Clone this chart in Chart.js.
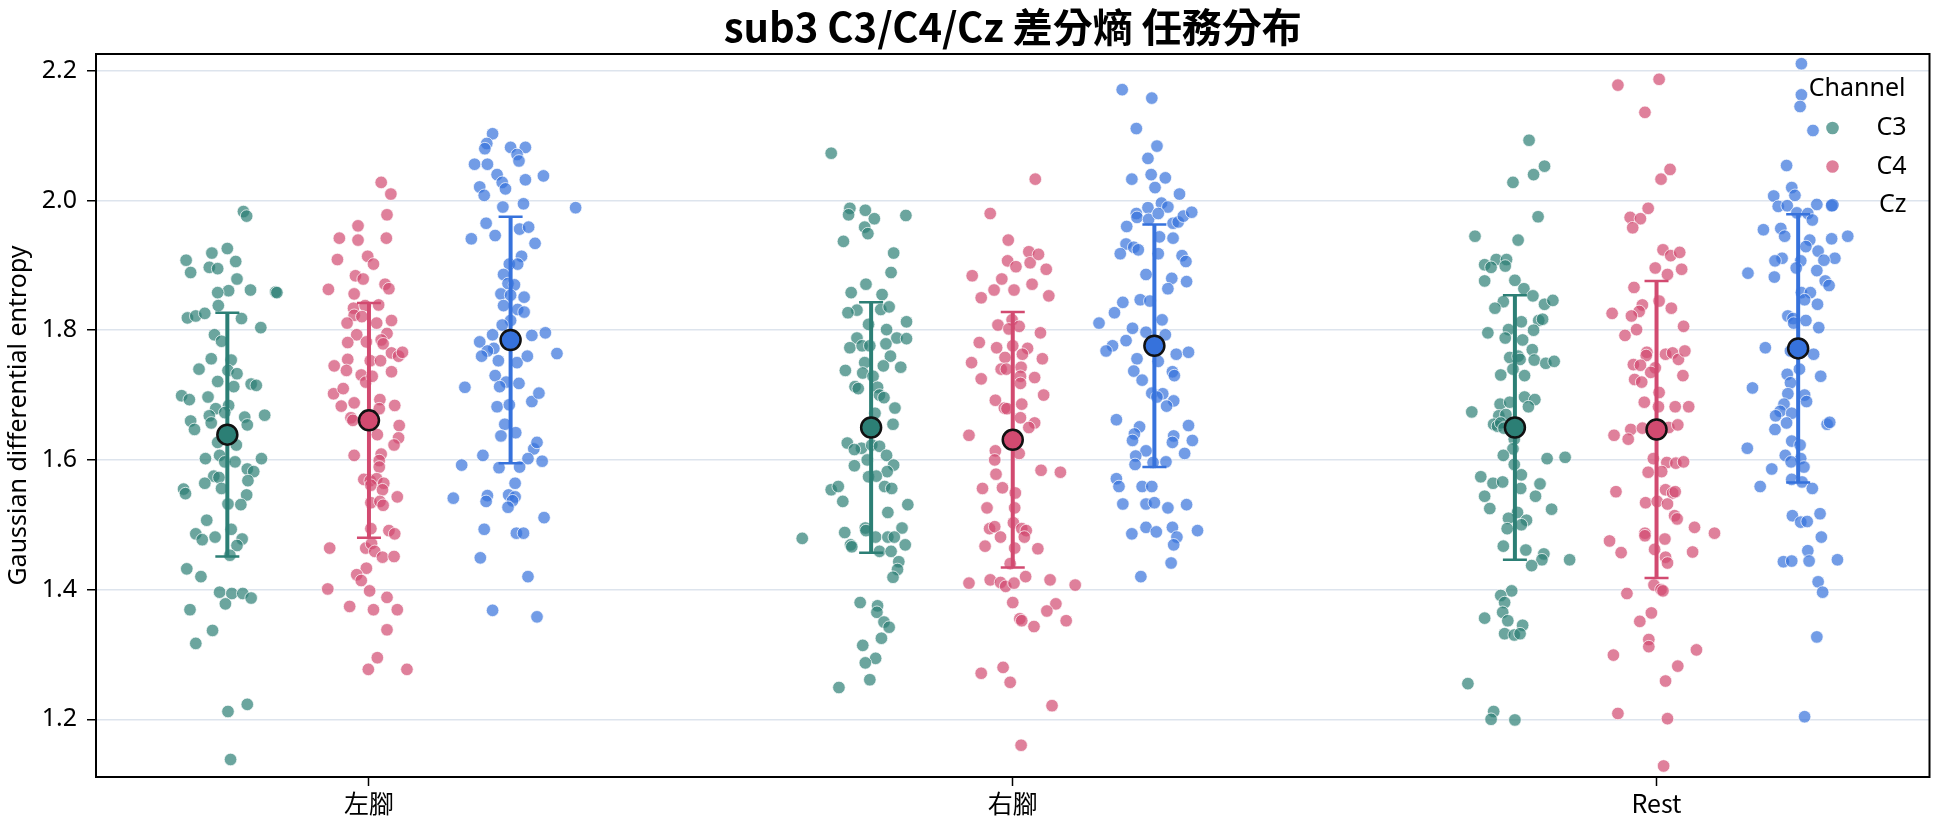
<!DOCTYPE html>
<html>
<head>
<meta charset="utf-8">
<script src="https://cdn.jsdelivr.net/npm/chart.js@4.4.1/dist/chart.umd.min.js"></script>
<style>
  html, body { margin: 0; padding: 0; background: #fff; }
  canvas { display: block; }
</style>
</head>
<body>
<canvas id="chart" width="1944" height="827"></canvas>
<script>
// ---- DATA ----
const categories = ["左腳", "右腳", "Rest"];
const channels = ["C3", "C4", "Cz"];
const yTicks = [1.2, 1.4, 1.6, 1.8, 2.0, 2.2];

// per-channel mean and sd, one value per category (左腳, 右腳, Rest)
const meanC3 = [1.639, 1.650, 1.650];
const meanC4 = [1.661, 1.631, 1.647];
const meanCz = [1.785, 1.776, 1.772];
const sdC3 = [0.188, 0.193, 0.204];
const sdC4 = [0.181, 0.197, 0.229];
const sdCz = [0.190, 0.187, 0.207];

// trial values + strip jitter (category units)
const leftC3 = [
  1.983,1.976,1.926,1.919,1.908,1.889,1.897,1.895,1.906,1.879,
  1.861,1.858,1.862,1.859,1.858,1.838,1.819,1.822,1.826,1.818,
  1.804,1.793,1.783,1.754,1.756,1.740,1.738,1.733,1.721,1.713,
  1.717,1.715,1.699,1.693,1.697,1.684,1.679,1.673,1.668,1.666,
  1.669,1.660,1.647,1.657,1.654,1.627,1.623,1.602,1.607,1.597,
  1.597,1.602,1.586,1.582,1.575,1.573,1.568,1.564,1.556,1.555,
  1.548,1.546,1.532,1.531,1.507,1.486,1.477,1.481,1.493,1.478,
  1.468,1.453,1.432,1.420,1.396,1.394,1.394,1.387,1.378,1.369,
  1.337,1.317,1.223,1.212,1.138];
const leftC3Jit = [
  0.025,0.030,0.000,-0.024,-0.064,-0.057,-0.028,-0.015,0.013,0.015,
  0.002,-0.015,0.036,0.075,0.077,-0.014,-0.062,-0.049,-0.035,0.022,
  0.052,-0.020,-0.009,0.006,-0.025,-0.044,0.001,0.015,-0.015,0.010,
  0.037,0.045,-0.071,-0.059,-0.030,0.002,-0.018,-0.004,-0.028,0.027,
  0.058,-0.057,-0.051,-0.025,0.031,-0.015,0.014,-0.034,-0.012,-0.004,
  0.012,0.053,0.031,0.041,-0.021,-0.013,0.032,-0.035,-0.009,-0.068,
  -0.065,0.030,0.001,0.021,-0.032,-0.049,-0.039,-0.019,0.006,0.023,
  0.015,0.004,-0.063,-0.041,-0.012,0.007,0.024,0.037,-0.003,-0.058,
  -0.023,-0.049,0.031,0.001,0.005];

const leftC4 = [
  2.028,2.010,1.978,1.961,1.942,1.939,1.942,1.909,1.914,1.902,
  1.884,1.879,1.863,1.856,1.871,1.864,1.839,1.834,1.838,1.823,
  1.821,1.811,1.811,1.815,1.793,1.795,1.781,1.782,1.785,1.779,
  1.765,1.760,1.766,1.745,1.755,1.738,1.753,1.753,1.736,1.731,
  1.720,1.729,1.702,1.710,1.683,1.688,1.693,1.679,1.684,1.665,
  1.661,1.653,1.639,1.634,1.623,1.607,1.609,1.599,1.589,1.570,
  1.568,1.571,1.561,1.564,1.554,1.543,1.534,1.536,1.530,1.494,
  1.491,1.486,1.464,1.464,1.471,1.459,1.450,1.451,1.433,1.423,
  1.414,1.401,1.398,1.388,1.374,1.369,1.369,1.338,1.295,1.277,
  1.277];
const leftC4Jit = [
  0.019,0.034,0.028,-0.017,-0.046,-0.017,0.027,-0.049,-0.002,0.007,
  -0.021,-0.009,-0.063,-0.023,0.025,0.031,0.015,-0.024,-0.006,-0.023,
  -0.011,-0.034,0.012,0.035,-0.019,0.028,-0.033,-0.004,0.019,0.022,
  0.035,0.046,0.052,-0.054,-0.033,-0.035,0.002,0.018,0.035,-0.012,
  -0.005,0.005,-0.055,-0.040,-0.043,-0.023,0.017,0.016,0.040,-0.028,
  -0.025,0.047,0.013,0.046,0.039,-0.023,0.019,0.016,0.016,-0.008,
  0.002,0.012,0.003,0.023,0.021,0.044,0.003,0.017,0.022,0.003,
  0.031,0.040,-0.061,-0.005,0.004,0.009,0.021,0.039,-0.004,-0.019,
  -0.012,-0.064,0.001,0.028,-0.030,0.007,0.044,0.028,0.013,-0.001,
  0.059];

const leftCz = [
  2.103,2.088,2.080,2.082,2.082,2.071,2.061,2.056,2.056,2.040,
  2.028,2.018,2.032,2.038,2.021,2.008,1.990,1.995,1.989,1.965,
  1.946,1.941,1.956,1.959,1.934,1.914,1.902,1.902,1.886,1.872,
  1.870,1.856,1.854,1.851,1.838,1.832,1.828,1.815,1.808,1.793,
  1.792,1.796,1.782,1.772,1.768,1.760,1.753,1.750,1.760,1.764,
  1.730,1.720,1.718,1.713,1.712,1.690,1.703,1.682,1.685,1.655,
  1.642,1.637,1.617,1.627,1.607,1.602,1.598,1.592,1.588,1.589,
  1.564,1.546,1.543,1.545,1.536,1.537,1.527,1.541,1.511,1.493,
  1.487,1.487,1.449,1.420,1.368,1.358];
const leftCzJit = [
  -0.028,-0.037,-0.040,0.000,0.023,0.010,0.013,-0.056,-0.036,-0.021,
  -0.013,-0.008,0.023,0.051,-0.048,-0.041,-0.012,0.020,0.101,-0.038,
  -0.024,-0.061,0.014,0.028,0.038,0.017,-0.002,0.011,-0.011,-0.004,
  0.006,-0.015,0.000,0.021,-0.011,0.011,0.021,0.000,-0.013,-0.028,
  0.033,0.054,-0.048,-0.026,-0.036,-0.045,-0.019,0.010,0.026,0.072,
  -0.024,-0.007,0.013,-0.017,-0.071,0.033,0.044,-0.021,-0.002,-0.009,
  0.008,-0.015,0.036,0.041,-0.043,0.027,0.049,-0.076,-0.018,0.014,
  0.007,-0.003,0.007,-0.036,-0.038,0.003,-0.004,-0.089,0.052,-0.041,
  0.009,0.020,-0.047,0.027,-0.028,0.041];

const rightC3 = [
  2.073,1.988,1.978,1.985,1.972,1.977,1.959,1.949,1.937,1.919,
  1.889,1.871,1.858,1.855,1.831,1.827,1.832,1.836,1.813,1.809,
  1.801,1.788,1.787,1.788,1.773,1.776,1.776,1.779,1.760,1.750,
  1.745,1.743,1.738,1.734,1.729,1.713,1.710,1.712,1.700,1.696,
  1.672,1.680,1.655,1.626,1.618,1.623,1.621,1.616,1.607,1.592,
  1.591,1.600,1.582,1.574,1.575,1.559,1.556,1.554,1.559,1.536,
  1.531,1.519,1.495,1.495,1.491,1.488,1.481,1.481,1.481,1.479,
  1.469,1.466,1.469,1.459,1.459,1.443,1.431,1.419,1.380,1.375,
  1.365,1.350,1.342,1.325,1.314,1.294,1.287,1.261,1.249];
const rightC3Jit = [
  -0.062,-0.033,-0.035,-0.009,0.005,0.054,-0.010,-0.005,-0.043,0.035,
  0.031,-0.008,-0.031,0.017,-0.022,-0.036,0.015,0.028,0.055,-0.004,
  0.024,0.040,0.055,-0.022,-0.033,-0.014,-0.002,0.023,0.030,-0.010,
  0.019,0.046,-0.040,-0.013,0.003,-0.025,-0.020,0.010,0.013,0.020,
  0.006,0.037,0.034,-0.037,-0.015,0.001,0.013,-0.026,0.024,0.035,
  -0.026,-0.006,0.025,-0.004,0.008,0.021,0.032,-0.062,-0.051,-0.044,
  0.057,0.026,0.048,-0.009,-0.008,-0.041,0.007,0.026,0.036,-0.107,
  -0.032,-0.030,0.053,0.013,0.031,0.043,0.041,0.034,-0.017,0.010,
  0.009,0.020,0.028,0.016,-0.013,0.007,-0.009,-0.002,-0.050];

const rightC4 = [
  2.033,1.980,1.939,1.907,1.898,1.921,1.904,1.917,1.894,1.884,
  1.879,1.871,1.862,1.862,1.850,1.853,1.816,1.808,1.802,1.806,
  1.796,1.781,1.773,1.776,1.772,1.750,1.758,1.763,1.756,1.740,
  1.740,1.743,1.725,1.729,1.727,1.718,1.700,1.692,1.680,1.686,
  1.679,1.665,1.657,1.650,1.638,1.614,1.600,1.610,1.584,1.581,
  1.578,1.556,1.557,1.549,1.526,1.526,1.494,1.497,1.503,1.494,
  1.491,1.481,1.481,1.467,1.464,1.463,1.440,1.420,1.410,1.415,
  1.411,1.405,1.410,1.415,1.407,1.380,1.378,1.367,1.355,1.352,
  1.343,1.352,1.271,1.280,1.257,1.221,1.160];
const rightC4Jit = [
  0.035,-0.035,-0.007,-0.008,0.005,0.025,0.027,0.040,0.052,-0.063,
  -0.017,0.030,-0.029,0.002,-0.049,0.056,-0.001,-0.023,-0.006,0.010,
  0.043,-0.052,-0.025,0.000,0.023,-0.064,-0.012,0.015,0.046,-0.018,
  -0.010,0.013,-0.049,0.012,0.034,0.012,0.048,-0.027,-0.013,0.014,
  -0.009,0.012,0.034,0.025,-0.068,-0.027,-0.028,0.010,0.044,0.074,
  -0.026,-0.047,-0.016,0.004,-0.040,0.003,-0.036,-0.028,0.001,0.014,
  0.021,-0.019,0.018,-0.043,0.003,0.039,-0.004,0.020,-0.068,-0.035,
  -0.019,-0.011,0.002,0.058,0.097,0.000,0.067,0.053,0.011,0.014,
  0.033,0.083,-0.049,-0.015,-0.004,0.061,0.013];

const rightCz = [
  2.171,2.158,2.111,2.084,2.065,2.033,2.040,2.035,2.020,2.010,
  1.989,1.996,1.990,1.980,1.974,1.971,1.980,1.965,1.967,1.976,
  1.982,1.960,1.944,1.942,1.933,1.928,1.924,1.918,1.918,1.915,
  1.906,1.886,1.880,1.875,1.864,1.843,1.847,1.845,1.827,1.811,
  1.816,1.803,1.797,1.793,1.784,1.776,1.768,1.752,1.756,1.763,
  1.766,1.737,1.723,1.736,1.730,1.703,1.702,1.697,1.691,1.683,
  1.662,1.651,1.640,1.630,1.637,1.627,1.653,1.630,1.610,1.614,
  1.606,1.593,1.596,1.597,1.571,1.559,1.559,1.559,1.532,1.532,
  1.534,1.526,1.531,1.486,1.496,1.489,1.496,1.481,1.469,1.491,
  1.441,1.420];
const rightCzJit = [
  -0.050,-0.004,-0.028,0.004,-0.010,-0.035,-0.005,0.017,0.001,0.039,
  -0.010,0.011,0.021,-0.028,-0.027,-0.009,0.006,0.029,0.037,0.045,
  0.058,-0.043,0.008,0.029,-0.044,-0.032,-0.025,-0.053,0.006,0.043,
  0.049,-0.013,0.027,0.050,0.021,-0.049,-0.022,-0.007,-0.062,-0.086,
  0.012,-0.034,-0.013,0.017,-0.044,-0.065,-0.075,0.006,-0.027,0.034,
  0.053,-0.032,-0.019,0.028,0.031,-0.004,0.013,0.004,0.030,0.019,
  -0.059,-0.023,-0.031,-0.034,0.030,0.028,0.053,0.059,0.047,-0.013,
  -0.029,-0.030,-0.002,0.018,-0.059,-0.055,-0.019,-0.004,-0.049,-0.013,
  0.000,0.021,0.050,-0.035,-0.013,0.003,0.028,0.035,0.030,0.067,
  0.026,-0.021];

const restC3 = [
  2.093,2.053,2.040,2.028,1.975,1.945,1.939,1.909,1.909,1.901,
  1.897,1.899,1.876,1.877,1.864,1.853,1.844,1.834,1.840,1.846,
  1.813,1.815,1.817,1.796,1.801,1.800,1.788,1.785,1.770,1.758,
  1.760,1.755,1.754,1.749,1.752,1.740,1.731,1.730,1.697,1.693,
  1.682,1.686,1.689,1.674,1.668,1.670,1.655,1.652,1.657,1.649,
  1.632,1.617,1.607,1.593,1.602,1.604,1.574,1.564,1.566,1.577,
  1.556,1.563,1.544,1.544,1.525,1.524,1.519,1.510,1.507,1.494,
  1.500,1.467,1.461,1.455,1.446,1.437,1.446,1.398,1.391,1.380,
  1.365,1.356,1.352,1.345,1.332,1.330,1.332,1.255,1.212,1.200,
  1.199];
const restC3Jit = [
  0.022,0.046,0.029,-0.003,0.036,-0.062,0.005,-0.029,-0.013,-0.047,
  -0.037,-0.015,-0.047,0.000,0.014,0.028,-0.018,-0.031,0.046,0.059,
  0.010,0.037,0.043,-0.042,-0.010,0.029,-0.015,0.012,0.027,-0.008,
  0.005,0.008,0.030,0.048,0.061,-0.003,-0.022,0.015,0.015,0.031,
  0.021,-0.023,-0.008,-0.067,-0.025,-0.014,-0.033,-0.027,-0.022,-0.017,
  -0.001,-0.003,-0.018,-0.001,0.050,0.078,-0.053,-0.034,-0.019,0.010,
  0.009,0.039,-0.047,0.032,-0.039,0.057,0.004,-0.010,0.018,-0.012,
  0.010,-0.018,0.017,0.045,0.042,0.026,0.085,-0.005,-0.022,-0.016,
  -0.019,-0.047,-0.011,0.012,-0.016,-0.001,0.008,-0.073,-0.033,-0.037,
  0.000];

const restC4 = [
  2.178,2.187,2.136,2.048,2.033,1.988,1.974,1.972,1.958,1.924,
  1.915,1.920,1.896,1.886,1.894,1.866,1.845,1.834,1.839,1.829,
  1.822,1.826,1.801,1.806,1.792,1.766,1.761,1.763,1.765,1.755,
  1.768,1.747,1.746,1.742,1.735,1.724,1.720,1.730,1.704,1.689,
  1.682,1.682,1.682,1.647,1.632,1.638,1.649,1.650,1.654,1.602,
  1.596,1.595,1.597,1.581,1.582,1.551,1.554,1.549,1.551,1.534,
  1.536,1.532,1.514,1.509,1.496,1.487,1.487,1.483,1.475,1.478,
  1.457,1.462,1.458,1.450,1.441,1.407,1.400,1.398,1.394,1.364,
  1.351,1.323,1.312,1.299,1.307,1.282,1.259,1.209,1.201,1.128];
const restC4Jit = [
  -0.060,0.004,-0.018,0.021,0.007,-0.013,-0.041,-0.025,-0.037,0.010,
  0.022,0.036,-0.002,0.017,0.039,-0.035,0.004,0.023,-0.022,-0.027,
  -0.039,-0.069,-0.031,0.042,-0.049,-0.015,-0.016,0.014,0.025,0.034,
  0.044,-0.036,-0.025,-0.002,-0.009,-0.034,-0.023,0.041,0.004,-0.019,
  0.003,0.029,0.050,-0.040,-0.044,-0.066,-0.022,0.019,0.033,-0.005,
  0.016,0.030,0.042,-0.013,0.008,-0.063,0.014,0.025,0.029,-0.017,
  0.001,0.017,0.028,0.032,0.059,0.090,-0.018,-0.018,-0.073,0.013,
  -0.055,-0.003,0.056,0.014,0.017,-0.004,0.007,0.010,-0.046,-0.008,
  -0.026,-0.012,-0.012,-0.067,0.062,0.033,0.014,-0.060,0.017,0.011];

const restCz = [
  2.211,2.163,2.145,2.108,2.054,2.020,2.007,2.008,1.991,1.992,
  1.994,1.992,1.981,1.980,1.970,1.955,1.957,1.945,1.939,1.941,
  1.945,1.929,1.922,1.911,1.911,1.907,1.907,1.908,1.888,1.882,
  1.896,1.892,1.876,1.869,1.858,1.858,1.847,1.840,1.822,1.818,
  1.815,1.811,1.804,1.773,1.768,1.763,1.740,1.732,1.729,1.711,
  1.719,1.702,1.700,1.690,1.686,1.675,1.668,1.672,1.657,1.655,
  1.658,1.647,1.629,1.623,1.618,1.607,1.602,1.597,1.586,1.589,
  1.559,1.570,1.566,1.556,1.514,1.504,1.505,1.517,1.481,1.460,
  1.443,1.444,1.444,1.446,1.412,1.396,1.327,1.204];
const restCzJit = [
  0.005,0.005,0.003,0.023,-0.018,-0.010,-0.038,-0.005,-0.031,-0.017,
  0.029,0.052,-0.002,0.015,0.022,-0.054,-0.027,-0.021,0.018,0.052,
  0.077,0.012,0.031,0.057,-0.025,-0.036,0.004,0.040,-0.078,-0.037,
  -0.003,0.029,0.042,0.048,0.005,0.019,0.010,0.030,-0.016,-0.008,
  0.012,-0.007,0.032,-0.051,-0.012,0.024,0.002,-0.017,0.035,-0.071,
  -0.012,-0.016,0.010,0.013,-0.022,-0.028,-0.035,-0.010,-0.018,0.045,
  0.049,-0.036,-0.010,0.003,-0.079,-0.020,0.004,-0.011,-0.041,0.009,
  -0.059,-0.010,0.006,0.022,-0.009,0.004,0.014,0.034,0.036,0.015,
  -0.023,-0.010,0.017,0.061,0.031,0.038,0.029,0.010];

// ---- STYLE ----
const colors = {
  C3: [44, 127, 117],
  C4: [210, 74, 112],
  Cz: [54, 114, 220]
};
const hueOffset = { C3: -0.22, C4: 0, Cz: 0.22 };
const rgba = (c, a) => `rgba(${c[0]},${c[1]},${c[2]},${a})`;

const CJK = "'Noto Sans CJK TC', 'Noto Sans', sans-serif";
const LATIN = "'Noto Sans', 'Noto Sans CJK TC', sans-serif";

Chart.defaults.color = "#000";
Chart.defaults.font.family = LATIN;
Chart.defaults.font.size = 25;

// group values per channel: [左腳, 右腳, Rest]
const groups = {
  C3: [[leftC3, leftC3Jit], [rightC3, rightC3Jit], [restC3, restC3Jit]],
  C4: [[leftC4, leftC4Jit], [rightC4, rightC4Jit], [restC4, restC4Jit]],
  Cz: [[leftCz, leftCzJit], [rightCz, rightCzJit], [restCz, restCzJit]]
};
const means = { C3: meanC3, C4: meanC4, Cz: meanCz };
const sds = { C3: sdC3, C4: sdC4, Cz: sdCz };

let datasets = [];

// strip points
channels.forEach(ch => {
  let pts = [];
  groups[ch].forEach(([vals, jit], cat) => {
    vals.forEach((v, i) => pts.push({ x: cat + hueOffset[ch] + jit[i], y: v }));
  });
  datasets.push({
    label: ch,
    data: pts,
    order: 3,
    pointRadius: 6.3,
    pointHoverRadius: 6.3,
    backgroundColor: rgba(colors[ch], 0.7),
    borderColor: "rgba(255,255,255,0.9)",
    borderWidth: 0.8
  });
});

// error bars (mean ± sd)
channels.forEach(ch => {
  categories.forEach((c, cat) => {
    let x = cat + hueOffset[ch];
    datasets.push({
      label: ch + " sd",
      data: [
        { x: x, y: means[ch][cat] - sds[ch][cat] },
        { x: x, y: means[ch][cat] + sds[ch][cat] }
      ],
      order: 2,
      showLine: true,
      borderColor: rgba(colors[ch], 1),
      borderWidth: 4,
      pointStyle: "line",
      pointRadius: 12,
      pointHoverRadius: 12,
      pointBorderWidth: 2.5,
      pointBorderColor: rgba(colors[ch], 1)
    });
  });
});

// means
channels.forEach(ch => {
  datasets.push({
    label: ch + " mean",
    data: categories.map((c, cat) => ({ x: cat + hueOffset[ch], y: means[ch][cat] })),
    order: 1,
    pointRadius: 10,
    pointHoverRadius: 10,
    backgroundColor: rgba(colors[ch], 1),
    borderColor: "#111",
    borderWidth: 2.5
  });
});

// frame around plot area
const framePlugin = {
  id: "frame",
  afterDraw(chart) {
    const a = chart.chartArea;
    const ctx = chart.ctx;
    ctx.save();
    ctx.strokeStyle = "#000";
    ctx.lineWidth = 2;
    ctx.strokeRect(a.left, a.top, a.right - a.left, a.bottom - a.top);
    ctx.restore();
  }
};

// legend in the top-right corner
const legendPlugin = {
  id: "channelLegend",
  afterDraw(chart) {
    const a = chart.chartArea;
    const ctx = chart.ctx;
    const textRight = a.right - 23;
    ctx.save();
    ctx.font = "25px " + LATIN;
    ctx.fillStyle = "#000";
    ctx.textAlign = "right";
    ctx.textBaseline = "middle";
    ctx.fillText("Channel", textRight - 1, a.top + 35);
    channels.forEach((ch, i) => {
      let y = a.top + 74 + i * 38.5;
      ctx.beginPath();
      ctx.arc(a.right - 97, y, 6.3, 0, Math.PI * 2);
      ctx.fillStyle = rgba(colors[ch], 0.7);
      ctx.fill();
      ctx.fillStyle = "#000";
      ctx.fillText(ch, textRight, y);
    });
    ctx.restore();
  }
};

new Chart(document.getElementById("chart"), {
  type: "scatter",
  data: { datasets: datasets },
  plugins: [framePlugin, legendPlugin],
  options: {
    responsive: false,
    animation: false,
    devicePixelRatio: 1,
    layout: { padding: { left: 0, right: 9, top: 0, bottom: 0 } },
    plugins: {
      legend: { display: false },
      tooltip: { enabled: false },
      title: {
        display: true,
        text: "sub3 C3/C4/Cz 差分熵 任務分布",
        fullSize: false,
        color: "#000",
        font: { family: CJK, size: 40, weight: "bold" },
        padding: { top: 3, bottom: 3 }
      }
    },
    scales: {
      x: {
        type: "linear",
        min: -0.424,
        max: 2.424,
        afterBuildTicks: s => { s.ticks = categories.map((c, i) => ({ value: i })); },
        afterFit: s => { s.height = 50; },
        ticks: {
          callback: v => categories[v],
          font: { family: CJK, size: 25 },
          padding: 2,
          maxRotation: 0
        },
        grid: { drawOnChartArea: false, tickLength: 9, tickColor: "#000", tickWidth: 1.5 },
        border: { display: false }
      },
      y: {
        min: 1.111,
        max: 2.226,
        afterBuildTicks: s => { s.ticks = yTicks.map(v => ({ value: v })); },
        afterFit: s => { s.width = 96; },
        ticks: {
          callback: v => v.toFixed(1),
          padding: 10,
          font: { family: LATIN, size: 25 }
        },
        grid: { color: "#dde4ed", lineWidth: 1.5, tickLength: 9, tickColor: "#000", tickWidth: 1.5 },
        border: { display: false },
        title: {
          display: true,
          text: "Gaussian differential entropy",
          font: { family: LATIN, size: 25 },
          padding: { top: 4, bottom: 0 }
        }
      }
    }
  }
});
</script>
</body>
</html>
